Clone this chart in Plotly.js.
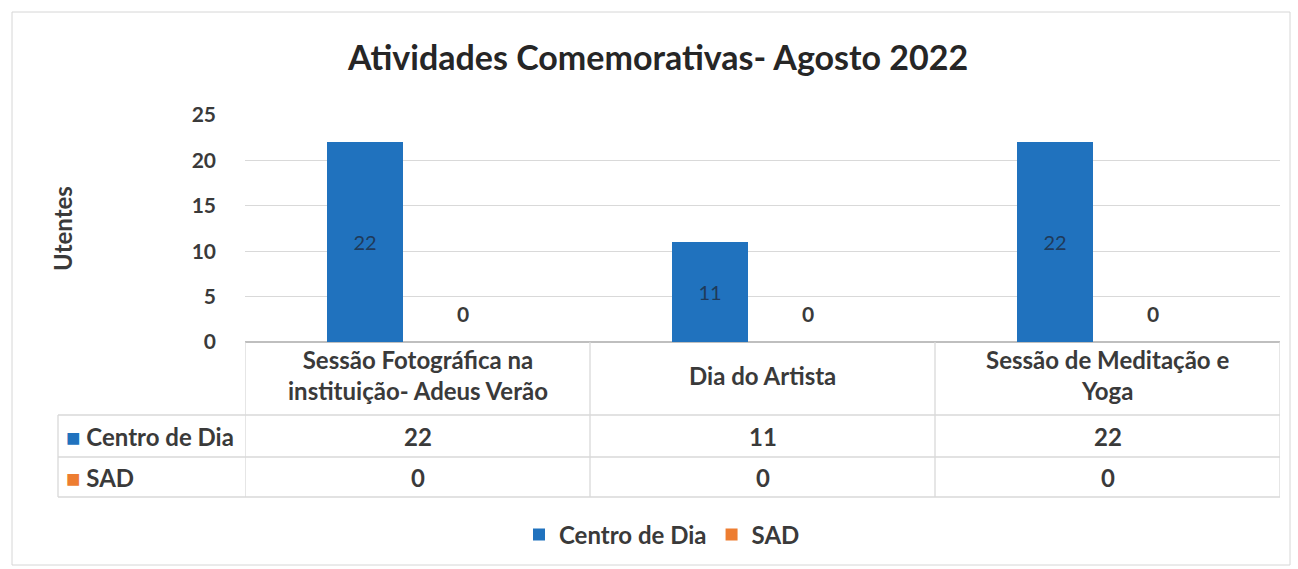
<!DOCTYPE html>
<html>
<head>
<meta charset="utf-8">
<script src="https://cdn.plot.ly/plotly-3.0.1.min.js"></script>
<style>
html,body{margin:0;padding:0;background:#fff;}
#chart{width:1298px;height:569px;}
</style>
</head>
<body>
<div id="chart"></div>
<script>
// ---- data ----
const categories = ["Sessão Fotográfica na<br>instituição- Adeus Verão", "Dia do Artista", "Sessão de Meditação e<br>Yoga"];
const seriesNames = ["Centro de Dia", "SAD"];
const centroDeDia = [22, 11, 22];
const sad = [0, 0, 0];
const yTicks = [0, 5, 10, 15, 20, 25];
const titleText = "Atividades Comemorativas- Agosto 2022";
const yTitle = "Utentes";

// ---- style ----
const BLUE = "#2072BE";
const ORANGE = "#ED7D31";
const TXT = "#3a3a3a";
const GRID = "#d9d9d9";
const FONT = "Lato, sans-serif";
const FS = 24;
const FW = 700;

// plot area in pixels (for table layout in paper coords)
const W = 1298, H = 569;
const mL = 245, mR = 18, mT = 115, mB = 227;
const pw = W - mL - mR, ph = H - mT - mB;
const py = p => (H - mB - p) / ph;   // pixel y -> paper y
const px = p => (p - mL) / pw;       // pixel x -> paper x

const xIdx = categories.map((c, i) => i);
const f = (c, s) => ({family: FONT, size: s || FS, color: c || TXT, weight: FW});

const traces = [
  {
    type: "bar", name: seriesNames[0], x: xIdx, y: centroDeDia,
    marker: {color: BLUE}, width: 0.22, offset: -0.262,
    text: centroDeDia.map(String), textposition: "inside", insidetextanchor: "middle",
    textfont: {family: FONT, size: 20, color: "#1f3a5a", weight: 400},
    hoverinfo: "none"
  },
  {
    type: "bar", name: seriesNames[1], x: xIdx, y: sad,
    marker: {color: ORANGE}, width: 0.22, offset: 0.023,
    hoverinfo: "none"
  }
];

const shapes = [];
const annotations = [];
const LINE = {color: GRID, width: 1.3};
// table horizontal lines
[415, 457, 497].forEach(p => {
  shapes.push({type: "line", xref: "paper", yref: "paper", x0: px(58), x1: 1, y0: py(p), y1: py(p), line: LINE});
});
// vertical dividers in header + rows
[-0.5, 0.5, 1.5, 2.5].forEach(v => {
  shapes.push({type: "line", xref: "x", yref: "paper", x0: v, x1: v, y0: 0, y1: py(497), line: LINE});
});
// left column outer line
shapes.push({type: "line", xref: "paper", yref: "paper", x0: px(58), x1: px(58), y0: py(415), y1: py(497), line: LINE});
// outer chart border
shapes.push({type: "rect", xref: "paper", yref: "paper", x0: px(12), x1: px(1290), y0: py(12), y1: py(565), line: {color: "#d6d6d6", width: 1}});

// header category labels
categories.forEach((c, i) => {
  annotations.push({xref: "x", yref: "paper", x: i, y: py(375), text: c, showarrow: false,
    font: f(), yanchor: "middle", xanchor: "center"});
});
// table values
const rows = [centroDeDia, sad];
const rowY = [436, 477];
const rowColors = [BLUE, ORANGE];
rows.forEach((vals, r) => {
  vals.forEach((v, i) => {
    annotations.push({xref: "x", yref: "paper", x: i, y: py(rowY[r]), text: String(v), showarrow: false,
      font: f(), yanchor: "middle"});
  });
  annotations.push({xref: "paper", yref: "paper", x: px(64), y: py(rowY[r]), xanchor: "left", yanchor: "middle",
    text: '<span style="color:' + rowColors[r] + '">■</span> ' + seriesNames[r], showarrow: false,
    font: f()});
});
// zero labels for SAD bars (above baseline)
sad.forEach((v, i) => {
  annotations.push({xref: "x", yref: "y", x: i + 0.023 + 0.11, y: v, text: String(v), showarrow: false,
    yanchor: "bottom", yshift: 14, font: f(null, 21)});
});

const layout = {
  width: W, height: H,
  margin: {l: mL, r: mR, t: mT, b: mB},
  paper_bgcolor: "#fff", plot_bgcolor: "#fff",
  title: {text: titleText, x: 0.507, xanchor: "center", y: 0.898, yanchor: "middle", yref: "container",
    font: {family: FONT, size: 34, color: "#262626", weight: FW}},
  showlegend: true,
  legend: {orientation: "h", x: px(662), xanchor: "center", y: py(535), yanchor: "middle",
    font: f(), traceorder: "normal", itemwidth: 30},
  xaxis: {range: [-0.5, 2.5], showticklabels: false, showgrid: false, zeroline: false,
    showline: false, fixedrange: true, tickvals: xIdx},
  yaxis: {range: [0, 25], tickvals: yTicks, ticktext: yTicks.map(String), showgrid: true, gridcolor: GRID, gridwidth: 1.3,
    zeroline: true, zerolinecolor: "#bfbfbf", zerolinewidth: 1.3, showline: false, ticks: "",
    ticklabelstandoff: 28,
    tickfont: f(null, 21),
    title: {text: yTitle, font: f(), standoff: 112}},
  shapes: shapes,
  annotations: annotations,
  bargap: 0, barmode: "overlay"
};

Plotly.newPlot("chart", traces, layout, {displayModeBar: false, staticPlot: true});
</script>
</body>
</html>
